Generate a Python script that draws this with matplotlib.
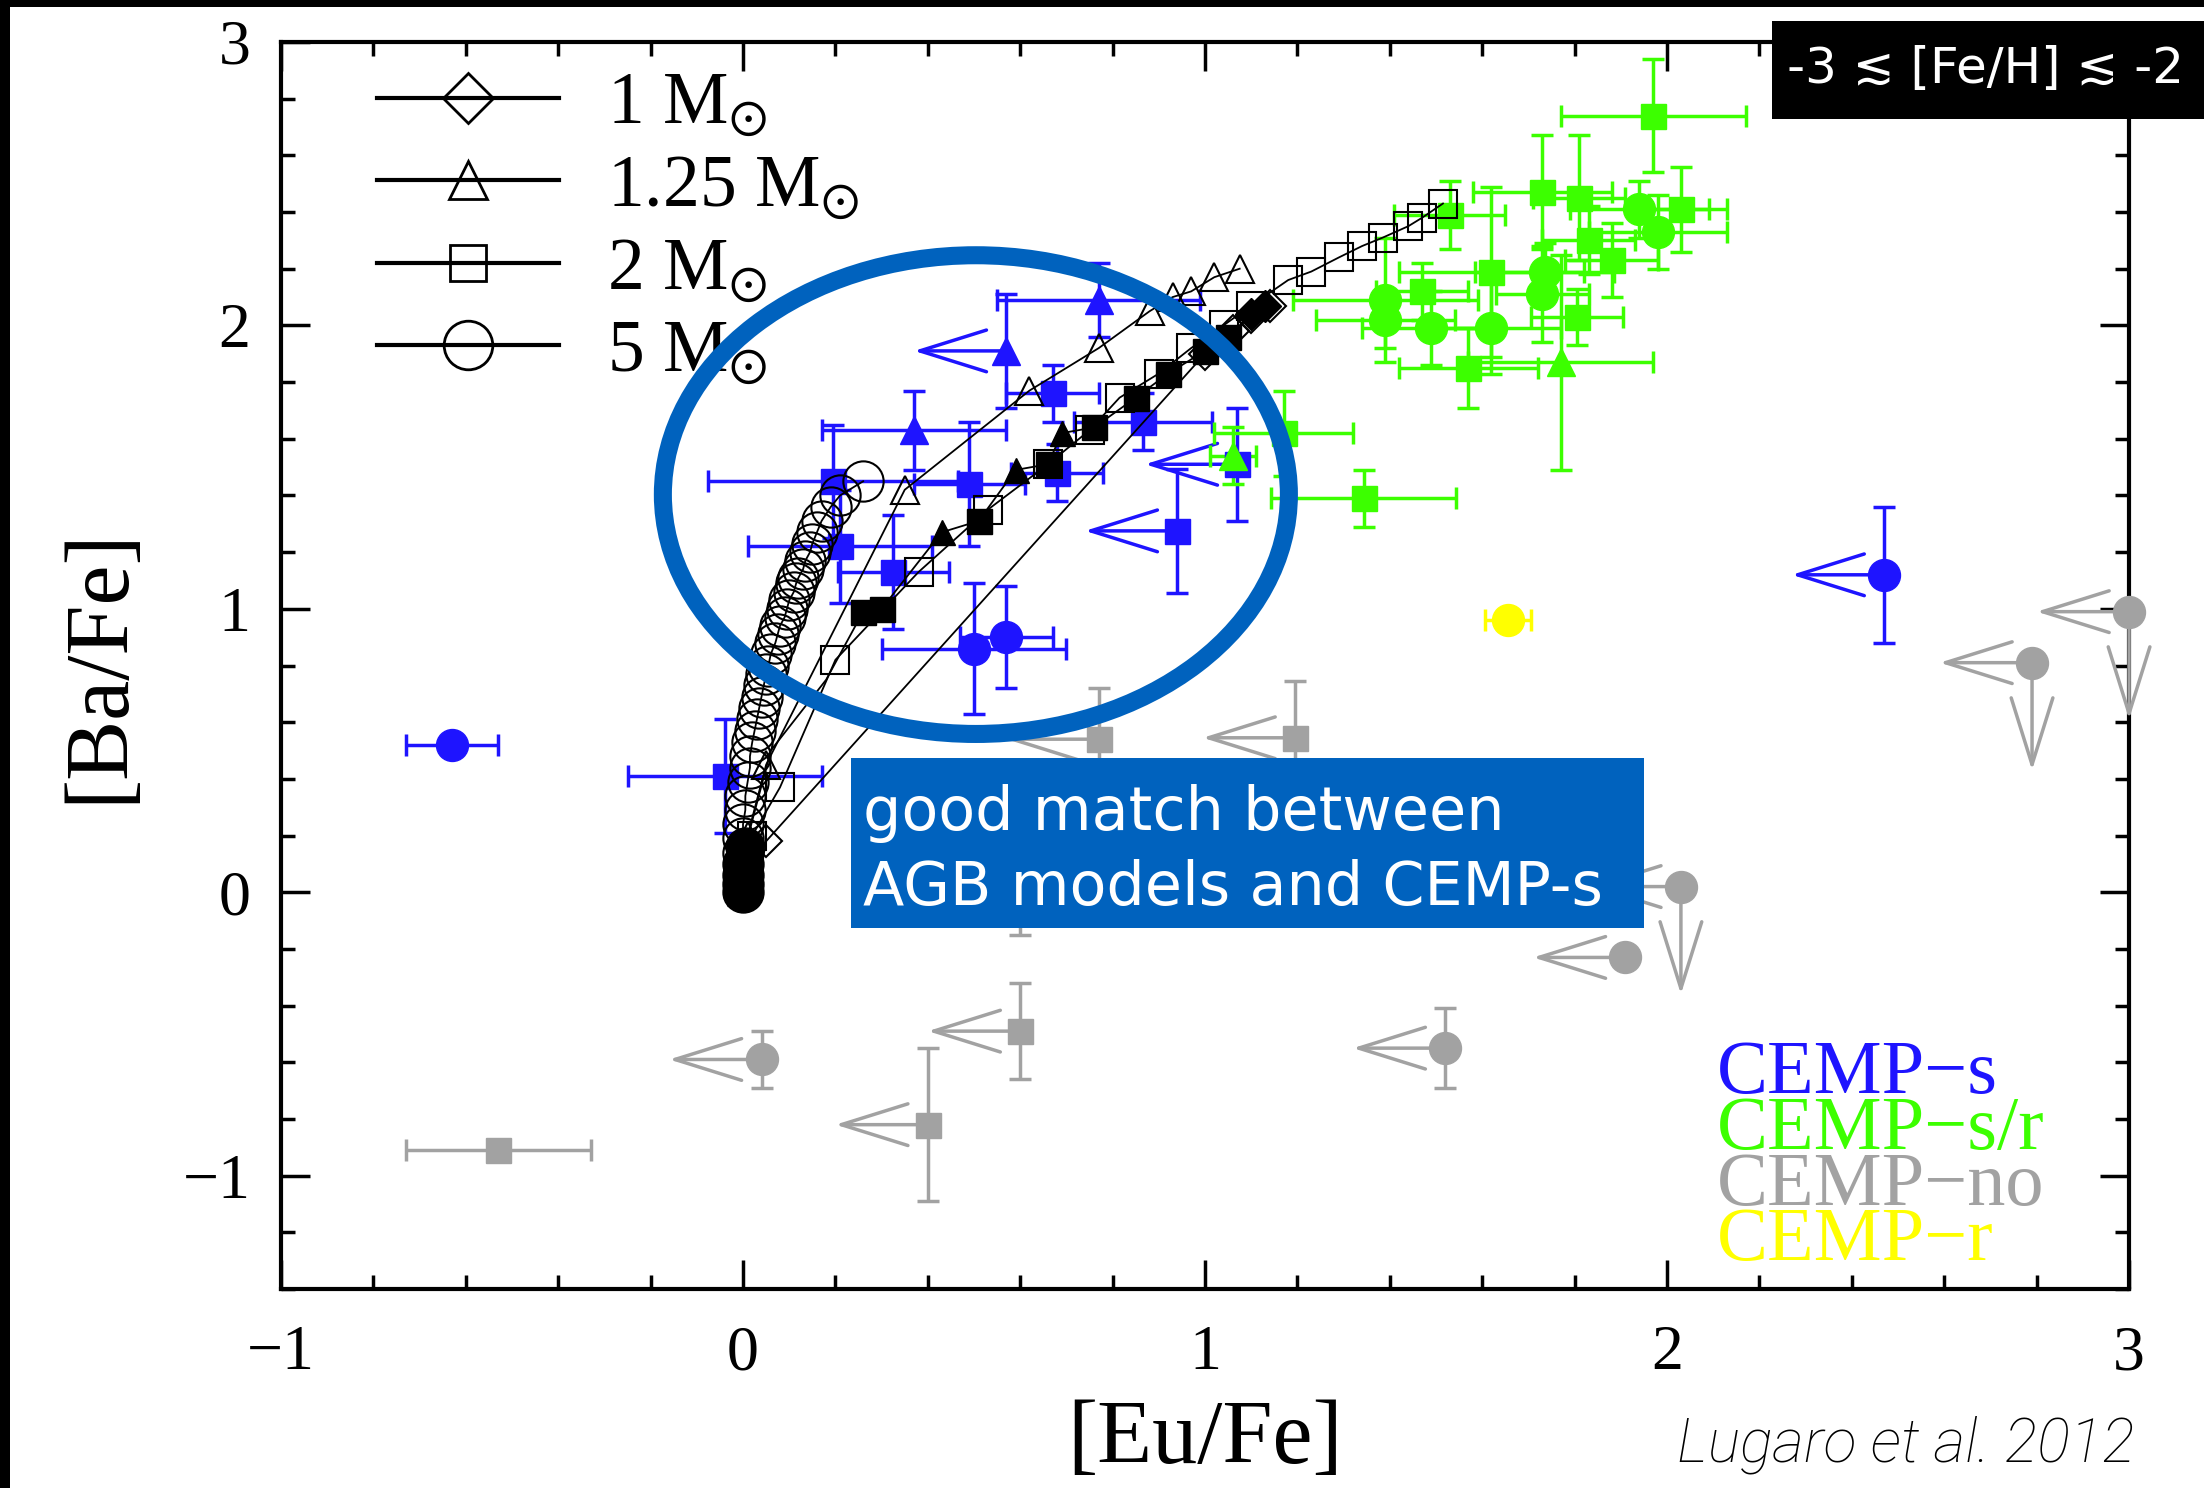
import matplotlib.pyplot as plt
from matplotlib.patches import Ellipse, Rectangle
from matplotlib.lines import Line2D
from matplotlib.ticker import MultipleLocator

plt.rcParams['font.family'] = ['Liberation Serif', 'DejaVu Serif']
plt.rcParams['mathtext.fontset'] = 'stix'

# ---- AGB model tracks: [Eu/Fe] vs [Ba/Fe] ----
m1_x = [0.0, 0.05, 1.0, 1.06, 1.1, 1.14]
m1_y = [0.0, 0.18, 1.9, 1.98, 2.03, 2.07]

m125_x = [0.0, 0.01, 0.05, 0.35, 0.62, 0.77, 0.88, 0.93, 0.97, 1.02, 1.075]
m125_y = [0.0, 0.2, 0.45, 1.42, 1.77, 1.92, 2.05, 2.10, 2.12, 2.17, 2.20]

m2_x = [0.0, 0.02, 0.08, 0.2, 0.38, 0.53, 0.66, 0.75, 0.815, 0.9, 0.97, 1.04, 1.1,
        1.18, 1.23, 1.29, 1.34, 1.385, 1.44, 1.47, 1.515]
m2_y = [0.0, 0.2, 0.37, 0.82, 1.13, 1.35, 1.51, 1.63, 1.745, 1.83, 1.92, 2.0, 2.07,
        2.16, 2.19, 2.24, 2.28, 2.31, 2.35, 2.38, 2.43]

m5_x = [0.0, 0.0, 0.0, 0.0, 0.0, 0.0, 0.0, 0.005, 0.005, 0.01, 0.015, 0.015, 0.02,
        0.025, 0.03, 0.035, 0.04, 0.045, 0.05, 0.055, 0.06, 0.07, 0.075, 0.08, 0.09,
        0.095, 0.1, 0.11, 0.115, 0.12, 0.13, 0.135, 0.145, 0.15, 0.16, 0.17, 0.19,
        0.21, 0.26]
m5_y = [0.0, 0.03, 0.06, 0.1, 0.14, 0.19, 0.24, 0.29, 0.34, 0.39, 0.44, 0.48, 0.53,
        0.57, 0.61, 0.65, 0.69, 0.73, 0.77, 0.8, 0.84, 0.88, 0.91, 0.94, 0.97,
        1.0, 1.03, 1.06, 1.09, 1.11, 1.14, 1.17, 1.2, 1.23, 1.27, 1.31, 1.36,
        1.4, 1.45]

# filled model points (no legend entry)
fill_x = [0.0, 0.0, 0.0, 0.005, 0.06, 0.18, 0.26, 0.3, 0.43, 0.51, 0.59, 0.66, 0.69,
          0.76, 0.85, 0.92, 1.0, 1.05, 1.1, 1.13]
fill_y = [0.0, 0.05, 0.1, 0.16, 0.5, 0.75, 0.99, 1.0, 1.27, 1.31, 1.49, 1.51, 1.62,
          1.64, 1.745, 1.83, 1.91, 1.96, 2.04, 2.07]
fill_mark = ['o', 'o', 'o', 'o', '', '', 's', 's', '^', 's', '^', 's', '^',
             's', 's', 's', 's', 's', 'D', 'D']

# ---- CEMP-s stars ----
s_x = [-0.63, -0.04, 0.195, 0.21, 0.325, 0.37, 0.49, 0.50, 0.57, 0.57, 0.68, 0.67,
       0.77, 0.866, 0.94, 1.07, 2.47]
s_y = [0.52, 0.41, 1.45, 1.22, 1.13, 1.63, 1.44, 0.86, 0.90, 1.91, 1.48, 1.76,
       2.09, 1.66, 1.275, 1.51, 1.12]
s_xerr = [0.10, 0.21, 0.27, 0.20, 0.12, 0.20, 0.12, 0.20, 0.10, 0.0, 0.10, 0.10,
          0.22, 0.15, 0.0, 0.0, 0.0]
s_yerr = [0.0, 0.20, 0.20, 0.20, 0.20, 0.14, 0.22, 0.23, 0.18, 0.20, 0.10, 0.10,
          0.13, 0.10, 0.22, 0.20, 0.24]
s_mark = ['o', 's', 's', 's', 's', '^', 's', 'o', 'o', '^', 's', 's',
          '^', 's', 's', 's', 'o']
s_xlim = [0, 0, 0, 0, 0, 0, 0, 0, 0, 1, 0, 0, 0, 0, 1, 1, 1]

# ---- CEMP-s/r stars ----
sr_x = [1.97, 1.73, 1.81, 1.94, 2.03, 1.98, 1.83, 1.88, 1.62, 1.735, 1.73, 1.805,
        1.47, 1.39, 1.39, 1.49, 1.62, 1.57, 1.77, 1.343, 1.06, 1.17, 1.53]
sr_y = [2.74, 2.47, 2.45, 2.41, 2.41, 2.33, 2.30, 2.23, 2.19, 2.19, 2.11, 2.03,
        2.12, 2.09, 2.02, 1.99, 1.99, 1.85, 1.87, 1.39, 1.54, 1.62, 2.39]
sr_xerr = [0.20, 0.15, 0.10, 0.15, 0.10, 0.15, 0.10, 0.10, 0.20, 0.15, 0.10, 0.10,
           0.10, 0.20, 0.15, 0.15, 0.15, 0.15, 0.20, 0.20, 0.05, 0.15, 0.12]
sr_yerr = [0.20, 0.20, 0.22, 0.10, 0.15, 0.13, 0.12, 0.13, 0.30, 0.10, 0.17, 0.10,
           0.10, 0.22, 0.10, 0.13, 0.16, 0.14, 0.38, 0.10, 0.10, 0.15, 0.12]
sr_mark = ['s', 's', 's', 'o', 's', 'o', 's', 's', 's', 'o', 'o', 's',
           's', 'o', 'o', 'o', 'o', 's', '^', 's', '^', 's', 's']

# ---- CEMP-no stars ----
no_x = [-0.53, 0.04, 0.40, 0.60, 1.52, 1.91, 2.03, 1.195, 0.77, 0.60, 3.0, 2.79]
no_y = [-0.91, -0.59, -0.82, -0.49, -0.55, -0.23, 0.02, 0.545, 0.54, 0.15, 0.99, 0.81]
no_xerr = [0.20, 0, 0, 0, 0, 0, 0, 0, 0, 0, 0, 0]
no_yerr = [0, 0.10, 0.27, 0.17, 0.14, 0, 0, 0.20, 0.18, 0.30, 0, 0]
no_mark = ['s', 'o', 's', 's', 'o', 'o', 'o', 's', 's', 's', 'o', 'o']
no_xlim = [0, 1, 1, 1, 1, 1, 1, 1, 1, 0, 1, 1]
no_ylim = [0, 0, 0, 0, 0, 0, 1, 0, 0, 0, 1, 1]

# ---- CEMP-r star ----
r_x = [1.655]
r_y = [0.96]
r_xerr = [0.05]

BLUE = '#1e14ff'
GREEN = '#3cff00'
GREY = '#a2a2a2'
YELLOW = '#ffff00'
RING = '#0062be'

fig = plt.figure(figsize=(22.04, 14.88), dpi=100)
ax = fig.add_axes([0.1275, 0.1337, 0.8385, 0.8381])
ax.set_xlim(-1, 3)
ax.set_ylim(-1.4, 3)

ARROW_X = 0.2
ARROW_Y = 0.38
MS = {'o': 23, 's': 18, '^': 20}


def arrow(x, y, dx, dy, color):
    ax.annotate('', xy=(x + dx, y + dy), xytext=(x, y),
                arrowprops=dict(arrowstyle='->,head_length=0.8,head_width=0.25',
                                color=color, lw=2.5, shrinkA=0, shrinkB=0,
                                mutation_scale=60),
                annotation_clip=False, zorder=3)


def draw_stars(xs, ys, xe, ye, marks, color, xlim=None, ylim=None):
    for i, (x, y, dx, dy, m) in enumerate(zip(xs, ys, xe, ye, marks)):
        ax.errorbar(x, y, xerr=dx if dx else None, yerr=dy if dy else None,
                    fmt=m, color=color, ms=MS[m], elinewidth=2.5, capsize=8,
                    capthick=2.5, clip_on=False, zorder=3)
        if xlim and xlim[i]:
            arrow(x, y, -ARROW_X, 0, color)
        if ylim and ylim[i]:
            arrow(x, y, 0, -ARROW_Y, color)


draw_stars(no_x, no_y, no_xerr, no_yerr, no_mark, GREY, no_xlim, no_ylim)
draw_stars(s_x, s_y, s_xerr, s_yerr, s_mark, BLUE, s_xlim)
draw_stars(sr_x, sr_y, sr_xerr, sr_yerr, sr_mark, GREEN)
draw_stars(r_x, r_y, r_xerr, [0] * len(r_x), ['o'] * len(r_x), YELLOW)

# model tracks
track_kw = dict(color='k', lw=1.3, mfc='none', mec='k', mew=1.5, zorder=4)
ax.plot(m5_x, m5_y, marker='o', ms=29, **track_kw)
ax.plot(m2_x, m2_y, marker='s', ms=20, **track_kw)
ax.plot(m125_x, m125_y, marker='^', ms=20, **track_kw)
ax.plot(m1_x, m1_y, marker='D', ms=16, **track_kw)
ax.plot(fill_x, fill_y, color='k', lw=1.3, zorder=4)
fill_ms = {'o': 28, 's': 18, '^': 18, 'D': 16}
for x, y, m in zip(fill_x, fill_y, fill_mark):
    if m:
        ax.plot(x, y, marker=m, ms=fill_ms[m], color='k', zorder=4)

# axes styling
for sp in ax.spines.values():
    sp.set_linewidth(3)
ax.xaxis.set_major_locator(MultipleLocator(1))
ax.xaxis.set_minor_locator(MultipleLocator(0.2))
ax.yaxis.set_major_locator(MultipleLocator(1))
ax.yaxis.set_minor_locator(MultipleLocator(0.2))
ax.tick_params(which='both', direction='in', top=True, right=True, width=2.5,
               labelsize=46)
ax.tick_params(which='major', length=21)
ax.tick_params(which='minor', length=10)
ax.tick_params(axis='x', pad=26)
ax.tick_params(axis='y', pad=22)
ax.set_xlabel('[Eu/Fe]', fontsize=65, labelpad=12)
ax.set_ylabel('[Ba/Fe]', fontsize=65, labelpad=30)

# legend of the model masses
handles = [
    Line2D([], [], color='k', lw=3, marker='D', ms=25, mfc='none', mec='k', mew=2),
    Line2D([], [], color='k', lw=3, marker='^', ms=27, mfc='none', mec='k', mew=2),
    Line2D([], [], color='k', lw=3, marker='s', ms=26, mfc='none', mec='k', mew=2),
    Line2D([], [], color='k', lw=3, marker='o', ms=35, mfc='none', mec='k', mew=2),
]
labels = ['1 M$_{\\odot}$', '1.25 M$_{\\odot}$', '2 M$_{\\odot}$', '5 M$_{\\odot}$']
ax.legend(handles, labels, loc='upper left', bbox_to_anchor=(0.052, 0.976),
          frameon=False, fontsize=53, handlelength=2.47, handletextpad=0.65,
          labelspacing=0.2, borderpad=0, borderaxespad=0)

# class labels
class_names = ['CEMP\u2212s', 'CEMP\u2212s/r', 'CEMP\u2212no', 'CEMP\u2212r']
class_colors = [BLUE, GREEN, GREY, YELLOW]
for i, (name, c) in enumerate(zip(class_names, class_colors)):
    ax.text(0.777, 0.157 - i * 0.0447, name, color=c, fontsize=55,
            transform=ax.transAxes, va='baseline')

# highlight ring
ax.add_patch(Ellipse((0.504, 1.403), 1.355, 1.689, fill=False, ec=RING, lw=13,
                     zorder=6))

# callout box
fig.add_artist(Rectangle((0.3861, 0.3763), 0.3598, 0.1143, transform=fig.transFigure,
                         fc=RING, ec='none', zorder=7))
fig.text(0.3916, 0.4422, 'good match between', color='white', fontsize=43.5,
         family='DejaVu Sans', va='baseline', zorder=8)
fig.text(0.3916, 0.3918, 'AGB models and CEMP-s', color='white', fontsize=43.5,
         family='DejaVu Sans', va='baseline', zorder=8)

# metallicity tag
fig.add_artist(Rectangle((0.804, 0.92), 0.196, 0.0659, transform=fig.transFigure,
                         fc='black', ec='none', zorder=7))
fig.text(0.8108, 0.9442, '-3 \u2272 [Fe/H] \u2272 -2', color='white', fontsize=36,
         family=['DejaVu Sans'], va='baseline', zorder=8)

# reference
fig.text(0.761, 0.0175, 'Lugaro et al. 2012', family=['Roboto', 'DejaVu Sans'],
         style='italic', weight='light', fontsize=44, va='baseline')

# black frame edges
fig.add_artist(Rectangle((0, 0), 10 / 2204, 1, transform=fig.transFigure,
                         fc='black', ec='none', zorder=9))
fig.add_artist(Rectangle((0, 1 - 7 / 1488), 1, 7 / 1488, transform=fig.transFigure,
                         fc='black', ec='none', zorder=9))

fig.savefig('out.png', dpi=100)
